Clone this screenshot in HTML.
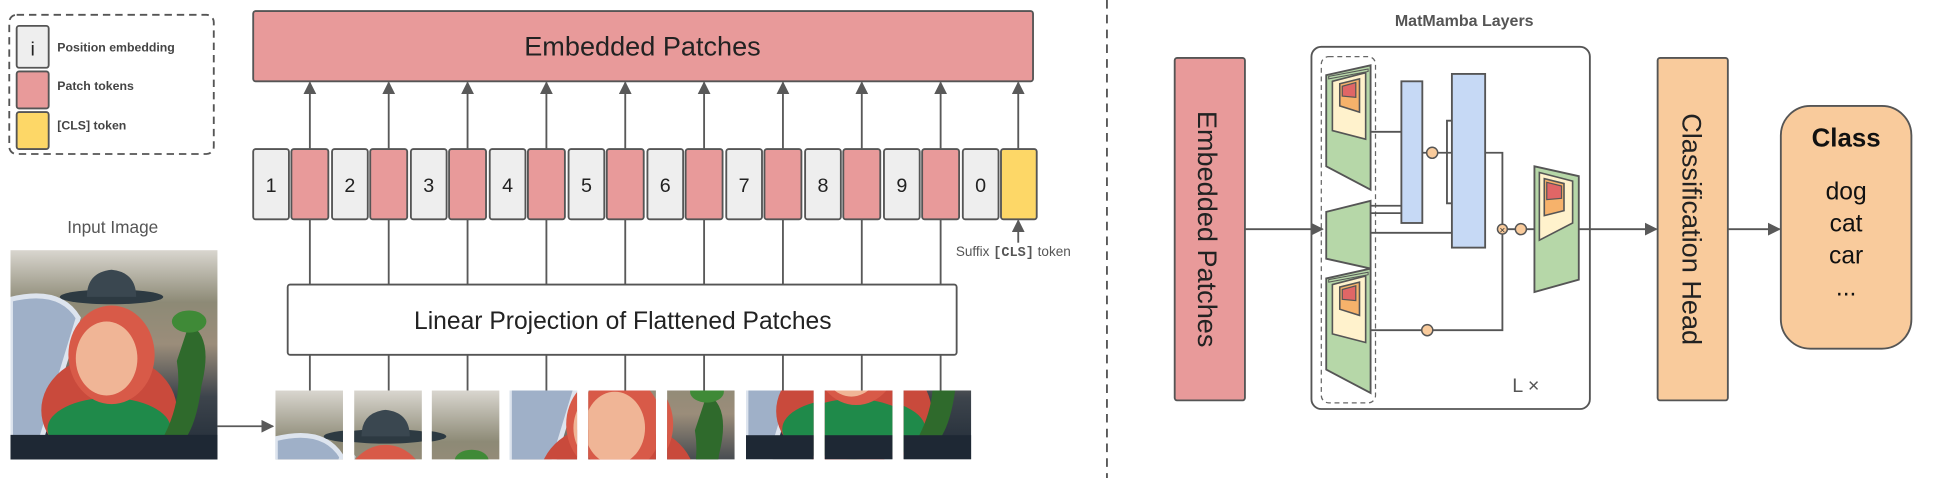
<!DOCTYPE html>
<html><head><meta charset="utf-8"><style>
html,body{margin:0;padding:0;background:#fff;overflow:hidden;width:1933px;height:478px;}
svg{display:block;}
text{font-family:"Liberation Sans",sans-serif;}
</style></head><body>
<svg width="1933" height="478" viewBox="0 0 1568 388" xmlns="http://www.w3.org/2000/svg">
<defs>
<marker id="ah" viewBox="0 0 10 10" refX="9" refY="5" markerWidth="7" markerHeight="7" orient="auto"><path d="M0,0 L10,5 L0,10 z" fill="#595959"/></marker>
<linearGradient id="bg" x1="0" y1="0" x2="0" y2="1">
<stop offset="0" stop-color="#d9d6cf"/><stop offset="0.25" stop-color="#8d8a76"/><stop offset="0.45" stop-color="#9b8d7a"/><stop offset="0.7" stop-color="#3d444c"/><stop offset="1" stop-color="#1f2a36"/></linearGradient>
<clipPath id="cimg"><rect x="0" y="0" width="168" height="170"/></clipPath>
<g id="img"><g clip-path="url(#cimg)">
<rect x="0" y="0" width="168" height="170" fill="url(#bg)"/>
<path d="M0,40 Q40,30 55,55 L20,170 L0,170 z" fill="#9fb0c8" stroke="#dde4ee" stroke-width="4"/>
<ellipse cx="80" cy="130" rx="55" ry="45" fill="#c94a3c"/>
<ellipse cx="80" cy="145" rx="50" ry="25" fill="#1f8a4a"/>
<ellipse cx="82" cy="85" rx="35" ry="40" fill="#d85a48"/>
<ellipse cx="78" cy="88" rx="25" ry="30" fill="#f0b596"/>
<ellipse cx="82" cy="38" rx="42" ry="6" fill="#2d3a42"/>
<path d="M62,38 Q62,18 82,16 Q102,18 102,38 z" fill="#3a4750"/>
<path d="M145,60 Q165,70 155,110 Q150,150 135,160 L125,150 Q140,120 135,90 Z" fill="#2f6a2c"/>
<ellipse cx="145" cy="58" rx="14" ry="9" fill="#3f8a37"/>
<rect x="0" y="150" width="168" height="20" fill="#1e2834"/>
</g></g>
<clipPath id="c1"><rect x="0" y="0" width="56" height="57"/></clipPath>
</defs>

<rect x="7" y="12" width="166" height="113" rx="6" fill="none" stroke="#555" stroke-width="1.5" stroke-dasharray="6,4"/>
<rect x="13" y="21" width="26" height="34" rx="2" fill="#eeeeee" stroke="#555" stroke-width="1.5"/>
<text x="26" y="45" font-size="16" text-anchor="middle" fill="#222">i</text>
<text x="46" y="42" font-size="10" font-weight="bold" fill="#444">Position embedding</text>
<rect x="13" y="58" width="26" height="30" rx="2" fill="#e89a9a" stroke="#555" stroke-width="1.5"/>
<text x="46" y="73" font-size="10" font-weight="bold" fill="#444">Patch tokens</text>
<rect x="13" y="91" width="26" height="30" rx="2" fill="#fdd767" stroke="#555" stroke-width="1.5"/>
<text x="46" y="105" font-size="10" font-weight="bold" fill="#444">[CLS] token</text>

<rect x="205" y="9" width="633" height="57" rx="2" fill="#e89a9a" stroke="#555" stroke-width="1.5"/>
<text x="521" y="45" font-size="22" text-anchor="middle" fill="#222">Embedded Patches</text>

<g stroke="#555" stroke-width="1.5">
<g id="tok">
<rect x="205" y="121" width="29" height="57" rx="2" fill="#eeeeee"/>
<rect x="236" y="121" width="30" height="57" rx="2" fill="#e89a9a"/>
</g>
<use href="#tok" x="64"/><use href="#tok" x="128"/><use href="#tok" x="192"/><use href="#tok" x="256"/><use href="#tok" x="320"/><use href="#tok" x="384"/><use href="#tok" x="448"/><use href="#tok" x="512"/>
<rect x="781" y="121" width="29" height="57" rx="2" fill="#eeeeee"/>
<rect x="812" y="121" width="29" height="57" rx="2" fill="#fdd767"/>
</g>
<g font-size="16" fill="#222" text-anchor="middle">
<text x="219.5" y="156">1</text><text x="283.5" y="156">2</text><text x="347.5" y="156">3</text><text x="411.5" y="156">4</text><text x="475.5" y="156">5</text><text x="539.5" y="156">6</text><text x="603.5" y="156">7</text><text x="667.5" y="156">8</text><text x="731.5" y="156">9</text><text x="795.5" y="156">0</text>
</g>

<g stroke="#595959" stroke-width="1.5" marker-end="url(#ah)">
<line x1="251" y1="121" x2="251" y2="67"/><line x1="315" y1="121" x2="315" y2="67"/><line x1="379" y1="121" x2="379" y2="67"/><line x1="443" y1="121" x2="443" y2="67"/><line x1="507" y1="121" x2="507" y2="67"/><line x1="571" y1="121" x2="571" y2="67"/><line x1="635" y1="121" x2="635" y2="67"/><line x1="699" y1="121" x2="699" y2="67"/><line x1="763" y1="121" x2="763" y2="67"/><line x1="826" y1="121" x2="826" y2="67"/>
<line x1="826" y1="197" x2="826" y2="179"/>
<line x1="176" y1="346" x2="221" y2="346"/>
</g>
<g stroke="#595959" stroke-width="1.5">
<line x1="251" y1="178" x2="251" y2="231"/><line x1="315" y1="178" x2="315" y2="231"/><line x1="379" y1="178" x2="379" y2="231"/><line x1="443" y1="178" x2="443" y2="231"/><line x1="507" y1="178" x2="507" y2="231"/><line x1="571" y1="178" x2="571" y2="231"/><line x1="635" y1="178" x2="635" y2="231"/><line x1="699" y1="178" x2="699" y2="231"/><line x1="763" y1="178" x2="763" y2="231"/>
<line x1="251" y1="288" x2="251" y2="317"/><line x1="315" y1="288" x2="315" y2="317"/><line x1="379" y1="288" x2="379" y2="317"/><line x1="443" y1="288" x2="443" y2="317"/><line x1="507" y1="288" x2="507" y2="317"/><line x1="571" y1="288" x2="571" y2="317"/><line x1="635" y1="288" x2="635" y2="317"/><line x1="699" y1="288" x2="699" y2="317"/><line x1="763" y1="288" x2="763" y2="317"/>
</g>
<text x="822" y="208" font-size="11" text-anchor="middle" fill="#555">Suffix <tspan font-family="Liberation Mono" font-weight="bold">[CLS]</tspan> token</text>

<rect x="233" y="231" width="543" height="57" rx="2" fill="#fff" stroke="#555" stroke-width="1.5"/>
<text x="505" y="267" font-size="20" text-anchor="middle" fill="#222">Linear Projection of Flattened Patches</text>

<text x="91" y="189" font-size="14" text-anchor="middle" fill="#555">Input Image</text>
<use href="#img" x="8" y="203"/>

<g transform="translate(223,317)"><g transform="scale(0.98)"><g clip-path="url(#c1)"><g transform="translate(0,0)"><use href="#img"/></g></g></g></g>
<g transform="translate(287,317)"><g transform="scale(0.98)"><g clip-path="url(#c1)"><g transform="translate(-56,0)"><use href="#img"/></g></g></g></g>
<g transform="translate(350,317)"><g transform="scale(0.98)"><g clip-path="url(#c1)"><g transform="translate(-112,0)"><use href="#img"/></g></g></g></g>
<g transform="translate(413,317)"><g transform="scale(0.98)"><g clip-path="url(#c1)"><g transform="translate(0,-57)"><use href="#img"/></g></g></g></g>
<g transform="translate(477,317)"><g transform="scale(0.98)"><g clip-path="url(#c1)"><g transform="translate(-56,-57)"><use href="#img"/></g></g></g></g>
<g transform="translate(541,317)"><g transform="scale(0.98)"><g clip-path="url(#c1)"><g transform="translate(-112,-57)"><use href="#img"/></g></g></g></g>
<g transform="translate(605,317)"><g transform="scale(0.98)"><g clip-path="url(#c1)"><g transform="translate(0,-113)"><use href="#img"/></g></g></g></g>
<g transform="translate(669,317)"><g transform="scale(0.98)"><g clip-path="url(#c1)"><g transform="translate(-56,-113)"><use href="#img"/></g></g></g></g>
<g transform="translate(733,317)"><g transform="scale(0.98)"><g clip-path="url(#c1)"><g transform="translate(-112,-113)"><use href="#img"/></g></g></g></g>

<line x1="898" y1="0" x2="898" y2="388" stroke="#555" stroke-width="1.5" stroke-dasharray="7,5"/>

<text x="1188" y="21" font-size="13" font-weight="bold" text-anchor="middle" fill="#555">MatMamba Layers</text>
<rect x="953" y="47" width="57" height="278" rx="2" fill="#e89a9a" stroke="#555" stroke-width="1.5"/>
<text transform="translate(972,186) rotate(90)" font-size="22" text-anchor="middle" fill="#222">Embedded Patches</text>
<rect x="1064" y="38" width="226" height="294" rx="8" fill="#fff" stroke="#555" stroke-width="1.5"/>
<rect x="1072" y="46" width="44" height="281" rx="6" fill="none" stroke="#666" stroke-width="1" stroke-dasharray="4,3"/>

<g stroke="#555" stroke-width="1.5" fill="none">
<line x1="1010" y1="186" x2="1073" y2="186" marker-end="url(#ah)"/>
<line x1="1280" y1="186" x2="1344" y2="186" marker-end="url(#ah)"/>
<line x1="1402" y1="186" x2="1444" y2="186" marker-end="url(#ah)"/>
<line x1="1112" y1="107" x2="1137" y2="107"/>
<line x1="1154" y1="124" x2="1178" y2="124"/>
<polyline points="1178,98 1174,98 1174,165 1178,165"/>
<polyline points="1205,124 1219,124 1219,268 1112,268"/>
<line x1="1112" y1="167" x2="1137" y2="167"/>
<line x1="1112" y1="173" x2="1137" y2="173"/>
<line x1="1112" y1="189" x2="1178" y2="189"/>
<line x1="1219" y1="186" x2="1245" y2="186"/>
</g>
<rect x="1137" y="66" width="17" height="115" fill="#c6d9f5" stroke="#555" stroke-width="1.5"/>
<rect x="1178" y="60" width="27" height="141" fill="#c6d9f5" stroke="#555" stroke-width="1.5"/>

<g id="tz">
<polygon points="1076,61 1112,53 1112,154 1076,135" fill="#b6d7a8" stroke="#555" stroke-width="1.5"/>
<polygon points="1078,62 1110,56 1110,58 1078,64" fill="#b6d7a8" stroke="#555" stroke-width="0.8"/>
<polygon points="1081,66 1108,59 1108,113 1081,106" fill="#fff2cc" stroke="#555" stroke-width="1.3"/>
<polygon points="1087,68 1103,64 1103,91 1087,86" fill="#f6b26b" stroke="#555" stroke-width="1.3"/>
<polygon points="1089,70 1100,67 1100,79 1089,78" fill="#e06666" stroke="#555" stroke-width="1"/>
</g>
<use href="#tz" y="165"/>
<polygon points="1076,172 1112,163 1112,218 1076,210" fill="#b6d7a8" stroke="#555" stroke-width="1.5"/>

<polygon points="1245,135 1281,143 1281,227 1245,237" fill="#b6d7a8" stroke="#555" stroke-width="1.5"/>
<polygon points="1249,140 1276,147 1276,181 1249,195" fill="#fff2cc" stroke="#555" stroke-width="1.3"/>
<polygon points="1253,145 1269,149 1269,171 1253,175" fill="#f6b26b" stroke="#555" stroke-width="1.3"/>
<polygon points="1255,148 1267,151 1267,161 1255,162" fill="#e06666" stroke="#555" stroke-width="1"/>

<circle cx="1162" cy="124" r="4.5" fill="#f9cb9c" stroke="#555" stroke-width="1.2"/>
<circle cx="1219" cy="186" r="4" fill="#f9cb9c" stroke="#555" stroke-width="1.2"/>
<text x="1219" y="189.5" font-size="8" text-anchor="middle" fill="#333">×</text>
<circle cx="1234" cy="186" r="4.5" fill="#f9cb9c" stroke="#555" stroke-width="1.2"/>
<circle cx="1158" cy="268" r="4.5" fill="#f9cb9c" stroke="#555" stroke-width="1.2"/>
<text x="1238" y="318" font-size="16" fill="#555" text-anchor="middle">L ×</text>

<rect x="1345" y="47" width="57" height="278" rx="2" fill="#f9cb9c" stroke="#555" stroke-width="1.5"/>
<text transform="translate(1365,186) rotate(90)" font-size="22" text-anchor="middle" fill="#222">Classification Head</text>

<rect x="1445" y="86" width="106" height="197" rx="24" fill="#f9cb9c" stroke="#555" stroke-width="1.5"/>
<text x="1498" y="119" font-size="21" font-weight="bold" text-anchor="middle" fill="#111">Class</text>
<g font-size="20" text-anchor="middle" fill="#111">
<text x="1498" y="162">dog</text><text x="1498" y="188">cat</text><text x="1498" y="214">car</text><text x="1498" y="240">...</text>
</g>
</svg>
</body></html>
